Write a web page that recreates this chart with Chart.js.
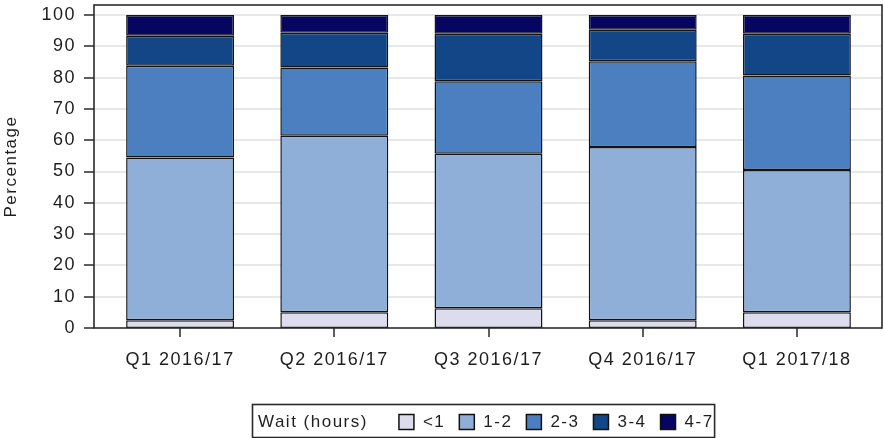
<!DOCTYPE html>
<html><head><meta charset="utf-8">
<script src="https://cdn.jsdelivr.net/npm/chart.js@4.4.1/dist/chart.umd.min.js"></script>
<style>html,body{margin:0;padding:0;background:#fff}canvas{display:block}</style>
</head><body>
<canvas id="c" width="884" height="438"></canvas>
<script>
// ---- data ----
const categories = ['Q1 2016/17', 'Q2 2016/17', 'Q3 2016/17', 'Q4 2016/17', 'Q1 2017/18'];
const seriesNames = ['<1', '1-2', '2-3', '3-4', '4-7'];
const waitLt1 = [2.5, 5.0, 6.3, 2.5, 5.0];
const wait1to2 = [52.0, 56.4, 49.4, 55.3, 45.5];
const wait2to3 = [29.3, 21.8, 23.1, 27.4, 30.2];
const wait3to4 = [9.6, 11.1, 15.2, 10.1, 13.3];
const wait4to7 = [6.6, 5.7, 6.0, 4.7, 6.0];
const yTickValues = [0, 10, 20, 30, 40, 50, 60, 70, 80, 90, 100];
const legendTitle = 'Wait (hours)';
const yAxisTitle = 'Percentage';

// ---- styles ----
const colors = ['#dcdcec', '#8fafd8', '#4b7fbf', '#134686', '#060661'];
const FONT = 'Liberation Sans';
const TEXT = '#1e1e1e';
const SPACING = '1.5px';
const FRAME_PAD_L = 9, FRAME_PAD_R = 8;

const seriesValues = [waitLt1, wait1to2, wait2to3, wait3to4, wait4to7];

const spacingPlugin = {
  id: 'spacing',
  beforeUpdate(chart) { chart.ctx.letterSpacing = SPACING; },
  beforeLayout(chart) { chart.ctx.letterSpacing = SPACING; },
  beforeDraw(chart) { chart.ctx.letterSpacing = SPACING; }
};

const framePlugin = {
  id: 'frame',
  beforeDatasetsDraw(chart) {
    const ctx = chart.ctx, a = chart.chartArea, ys = chart.scales.y;
    const L = a.left - FRAME_PAD_L, R = a.right + FRAME_PAD_R;
    ctx.save();
    ctx.strokeStyle = '#e8e8e8';
    ctx.lineWidth = 2;
    yTickValues.forEach(v => {
      if (v === 0) return;
      const y = Math.round(ys.getPixelForValue(v));
      ctx.beginPath(); ctx.moveTo(L, y); ctx.lineTo(R, y); ctx.stroke();
    });
    ctx.restore();
  },
  afterDatasetsDraw(chart) {
    const ctx = chart.ctx, a = chart.chartArea, ys = chart.scales.y, xs = chart.scales.x;
    const L = a.left - FRAME_PAD_L, R = a.right + FRAME_PAD_R;
    ctx.save();
    ctx.strokeStyle = '#2a2a2a';
    ctx.lineWidth = 1.6;
    ctx.strokeRect(L, a.top, R - L, a.bottom - a.top);
    ctx.lineWidth = 1.5;
    yTickValues.forEach(v => {
      const y = Math.round(ys.getPixelForValue(v));
      ctx.beginPath(); ctx.moveTo(L - 10, y); ctx.lineTo(L, y); ctx.stroke();
    });
    categories.forEach((c, i) => {
      const x = Math.round(xs.getPixelForValue(i));
      ctx.beginPath(); ctx.moveTo(x, a.bottom); ctx.lineTo(x, a.bottom + 9); ctx.stroke();
    });
    ctx.restore();
  },
  afterDraw(chart) {
    const ctx = chart.ctx;
    ctx.save();
    ctx.letterSpacing = SPACING;
    ctx.font = '17px "' + FONT + '"';
    ctx.fillStyle = TEXT;
    ctx.textBaseline = 'middle';
    ctx.textAlign = 'left';
    const cy = 422;
    let x = 258;
    ctx.fillText(legendTitle, x, cy);
    x += ctx.measureText(legendTitle).width + 31;
    const sq = 15;
    chart.data.datasets.forEach((ds, i) => {
      ctx.fillStyle = ds.backgroundColor;
      ctx.fillRect(x, cy - sq / 2, sq, sq);
      ctx.strokeStyle = '#111';
      ctx.lineWidth = 1.5;
      ctx.strokeRect(x, cy - sq / 2, sq, sq);
      x += sq + 9;
      ctx.fillStyle = TEXT;
      ctx.fillText(ds.label, x, cy);
      x += ctx.measureText(ds.label).width + (i < chart.data.datasets.length - 1 ? 14 : 1);
    });
    ctx.strokeStyle = '#2a2a2a';
    ctx.lineWidth = 1.6;
    ctx.strokeRect(252.5, 404.5, x - 252.5, 33);
    ctx.restore();
  }
};

new Chart(document.getElementById('c'), {
  type: 'bar',
  data: {
    labels: categories,
    datasets: seriesNames.map((name, i) => ({
      label: name,
      data: seriesValues[i],
      backgroundColor: colors[i],
      borderColor: '#141414',
      borderWidth: 1.5,
      borderSkipped: false,
      barPercentage: 0.7,
      categoryPercentage: 1.0
    }))
  },
  options: {
    responsive: false,
    devicePixelRatio: 1,
    animation: false,
    layout: { autoPadding: false, padding: { top: 5, right: 10, left: 0, bottom: 0 } },
    plugins: { legend: { display: false }, tooltip: { enabled: false } },
    scales: {
      x: {
        stacked: true,
        offset: true,
        grid: { display: false, drawTicks: false },
        border: { display: false },
        ticks: { color: TEXT, font: { family: FONT, size: 18 }, padding: 21, maxRotation: 0 },
        afterFit(s) { s.height = 110; s.paddingLeft = 0; s.paddingRight = 0; }
      },
      y: {
        stacked: true,
        min: 0,
        max: 103.2,
        grid: { display: false, drawTicks: false },
        border: { display: false },
        afterBuildTicks(s) { s.ticks = yTickValues.map(v => ({ value: v })); },
        ticks: { color: TEXT, font: { family: FONT, size: 18 }, padding: 27 },
        title: { display: true, text: yAxisTitle, color: TEXT, font: { family: FONT, size: 17 }, padding: { top: 1, bottom: 0 } },
        afterFit(s) { s.width = 103; s.paddingTop = 0; s.paddingBottom = 0; }
      }
    }
  },
  plugins: [spacingPlugin, framePlugin]
});
</script>
</body></html>
